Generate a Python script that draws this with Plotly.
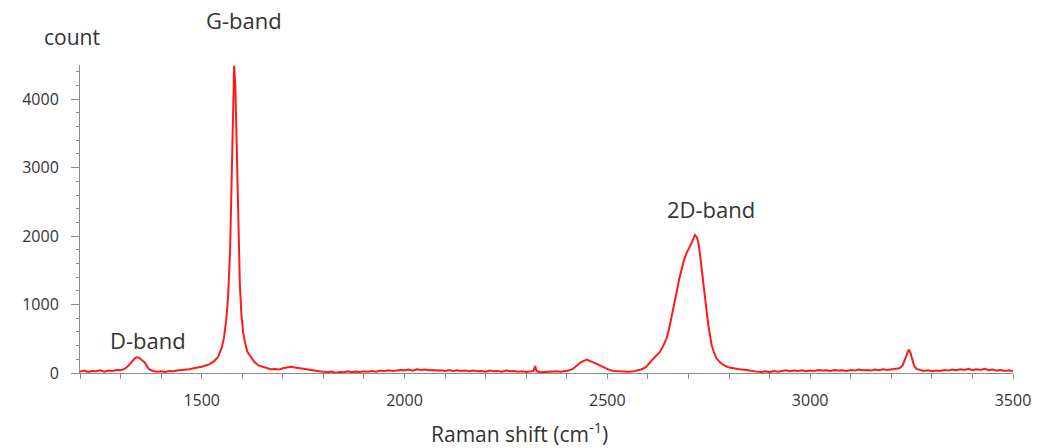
import plotly.graph_objects as go

# Raman spectrum: shift (cm^-1) and detector counts
raman_shift = [
    1200, 1210, 1220, 1230, 1240, 1250, 1260, 1270, 1280, 1290, 1300,
    1310, 1320, 1330, 1335, 1340, 1345, 1350, 1355, 1360, 1365, 1370,
    1380, 1390, 1400, 1410, 1420, 1430, 1440, 1450, 1460, 1470, 1480,
    1490, 1500, 1510, 1520, 1530, 1540, 1550, 1555, 1560, 1565, 1570,
    1574, 1577, 1580, 1583, 1586, 1590, 1594, 1598, 1602, 1607, 1612,
    1617, 1622, 1630, 1640, 1650, 1660, 1670, 1680, 1690, 1700, 1710,
    1720, 1730, 1740, 1750, 1760, 1770, 1780, 1790, 1800, 1810, 1820,
    1830, 1840, 1850, 1860, 1870, 1880, 1890, 1900, 1910, 1920, 1930,
    1940, 1950, 1960, 1970, 1980, 1990, 2000, 2010, 2020, 2030, 2040,
    2050, 2060, 2070, 2080, 2090, 2100, 2110, 2120, 2130, 2140, 2150,
    2160, 2170, 2180, 2190, 2200, 2210, 2220, 2230, 2240, 2250, 2260,
    2270, 2280, 2290, 2300, 2310, 2318, 2322, 2326, 2335, 2345, 2355,
    2365, 2375, 2385, 2395, 2405, 2415, 2425, 2435, 2445, 2450, 2455,
    2465, 2475, 2485, 2495, 2505, 2515, 2525, 2535, 2545, 2555, 2565,
    2575, 2585, 2595, 2605, 2615, 2625, 2630, 2638, 2646, 2652, 2658,
    2665, 2671, 2677, 2683, 2689, 2695, 2701, 2707, 2712, 2716, 2720,
    2724, 2728, 2732, 2737, 2741, 2745, 2749, 2753, 2757, 2763, 2769,
    2777, 2786, 2798, 2810, 2825, 2843, 2855, 2868, 2880, 2890, 2900,
    2910, 2920, 2930, 2940, 2950, 2960, 2970, 2980, 2990, 3000, 3010,
    3020, 3030, 3040, 3050, 3060, 3070, 3080, 3090, 3100, 3110, 3120,
    3130, 3140, 3150, 3160, 3170, 3180, 3190, 3200, 3210, 3220, 3228,
    3234, 3239, 3243, 3247, 3251, 3256, 3262, 3270, 3280, 3290, 3300,
    3310, 3320, 3330, 3340, 3350, 3360, 3370, 3380, 3390, 3400, 3410,
    3420, 3430, 3440, 3450, 3460, 3470, 3480, 3490, 3500,
]

counts = [
    20, 35, 15, 30, 25, 40, 20, 35, 30, 45, 40,
    60, 110, 190, 215, 230, 225, 200, 180, 150, 100, 55,
    30, 20, 25, 15, 30, 25, 35, 40, 50, 55, 70,
    75, 90, 110, 130, 170, 230, 380, 520, 750, 1100, 1800,
    2900, 3900, 4490, 4200, 3300, 2100, 1300, 850, 600, 440, 320,
    270, 230, 160, 110, 90, 70, 55, 60, 50, 70, 85,
    90, 80, 70, 55, 50, 45, 30, 25, 20, 10, 20,
    5, 15, 10, 25, 10, 20, 15, 25, 20, 30, 20,
    35, 25, 40, 30, 35, 45, 40, 50, 35, 55, 45,
    50, 40, 45, 35, 40, 30, 45, 30, 40, 30, 35,
    25, 35, 25, 30, 20, 35, 25, 30, 20, 35, 25,
    30, 20, 25, 15, 20, 30, 100, 25, 10, 15, 20,
    15, 25, 20, 30, 35, 60, 110, 160, 185, 195, 180,
    160, 130, 100, 70, 45, 30, 25, 20, 15, 20, 25,
    40, 55, 85, 160, 220, 280, 311, 400, 506, 640, 798,
    990, 1187, 1370, 1528, 1650, 1747, 1810, 1893, 1960, 2015, 1990,
    1917, 1750, 1528, 1300, 1090, 890, 700, 540, 409, 300, 215,
    160, 117, 85, 68, 55, 44, 30, 20, 15, 25, 10,
    30, 20, 35, 40, 25, 35, 30, 40, 25, 35, 30,
    45, 35, 40, 30, 45, 35, 40, 30, 45, 35, 50,
    40, 45, 35, 50, 40, 55, 45, 50, 55, 70, 110,
    200, 300, 340, 300, 200, 110, 60, 45, 30, 40, 25,
    35, 30, 45, 35, 50, 40, 55, 45, 60, 40, 55,
    45, 60, 40, 50, 35, 45, 30, 40, 25,
]

# Band labels, positioned in paper fractions of the plot area
band_names = ["D-band", "G-band", "2D-band"]
band_label_px = [0.0729, 0.1758, 0.676]
band_label_py = [0.107, 1.146, 0.532]

x_tick_vals = [1500, 2000, 2500, 3000, 3500]
y_tick_vals = [0, 1000, 2000, 3000, 4000]

FONT = "Open Sans, Noto Sans, sans-serif"
TEXT_COLOR = "#333333"
AXIS_COLOR = "#8c8c8c"

fig = go.Figure()
fig.add_trace(go.Scatter(
    x=raman_shift,
    y=counts,
    mode="lines",
    line=dict(color="#ff1a1a", width=2),
    showlegend=False,
    hoverinfo="x+y",
    cliponaxis=False,
))

for name, bx, by in zip(band_names, band_label_px, band_label_py):
    fig.add_annotation(
        x=bx, y=by, xref="paper", yref="paper", text=name, showarrow=False,
        xanchor="center", yanchor="middle",
        font=dict(family=FONT, size=22, color=TEXT_COLOR),
    )

fig.add_annotation(
    x=-0.0086, y=1.091, xref="paper", yref="paper", text="count",
    showarrow=False, xanchor="center", yanchor="middle",
    font=dict(family=FONT, size=21, color=TEXT_COLOR),
)
fig.add_annotation(
    x=0.471, y=-0.192, xref="paper", yref="paper",
    text="Raman shift (cm<sup>-1</sup>)", showarrow=False,
    xanchor="center", yanchor="middle",
    font=dict(family=FONT, size=21, color=TEXT_COLOR),
)

fig.update_layout(
    width=1051,
    height=448,
    margin=dict(l=80, r=38, t=65, b=75),
    paper_bgcolor="white",
    plot_bgcolor="white",
    font=dict(family=FONT, color=TEXT_COLOR),
)

fig.update_xaxes(
    range=[1200, 3500],
    tickvals=x_tick_vals,
    showgrid=False,
    zeroline=False,
    showline=True,
    linecolor=AXIS_COLOR,
    linewidth=1,
    ticks="outside",
    ticklen=5,
    tickcolor=AXIS_COLOR,
    tickfont=dict(family=FONT, size=16, color=TEXT_COLOR),
    ticklabelstandoff=8,
    minor=dict(dtick=100, tick0=1200, ticks="outside", ticklen=5,
               tickcolor=AXIS_COLOR, showgrid=False),
)

fig.update_yaxes(
    range=[0, 4500],
    tickvals=y_tick_vals,
    showgrid=False,
    zeroline=False,
    showline=True,
    linecolor=AXIS_COLOR,
    linewidth=1,
    ticks="outside",
    ticklen=8,
    tickcolor=AXIS_COLOR,
    tickfont=dict(family=FONT, size=16, color=TEXT_COLOR),
    ticklabelstandoff=9,
    minor=dict(dtick=200, tick0=0, ticks="outside", ticklen=3,
               tickcolor=AXIS_COLOR, showgrid=False),
)

fig.write_html("out.html")
